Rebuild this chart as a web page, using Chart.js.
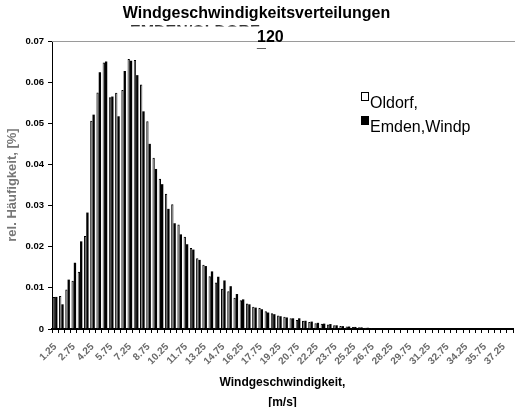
<!DOCTYPE html>
<html>
<head>
<meta charset="utf-8">
<script src="https://cdn.jsdelivr.net/npm/chart.js@4.4.1/dist/chart.umd.min.js"></script>
<style>
  html, body { margin: 0; padding: 0; background: #fff; overflow: hidden; }
  #wrap { width: 515px; height: 407px; }
</style>
</head>
<body>
<div id="wrap"><canvas id="chart" width="515" height="407"></canvas></div>
<script>
// Windgeschwindigkeitsverteilungen - two sites, rel. frequency per 0.5 m/s bin

const speeds = [
  '1.25', '1.75', '2.25', '2.75', '3.25', '3.75', '4.25', '4.75', '5.25', '5.75',
  '6.25', '6.75', '7.25', '7.75', '8.25', '8.75', '9.25', '9.75', '10.25', '10.75',
  '11.25', '11.75', '12.25', '12.75', '13.25', '13.75', '14.25', '14.75', '15.25', '15.75',
  '16.25', '16.75', '17.25', '17.75', '18.25', '18.75', '19.25', '19.75', '20.25', '20.75',
  '21.25', '21.75', '22.25', '22.75', '23.25', '23.75', '24.25', '24.75', '25.25', '25.75',
  '26.25', '26.75', '27.25', '27.75', '28.25', '28.75', '29.25', '29.75', '30.25', '30.75',
  '31.25', '31.75', '32.25', '32.75', '33.25', '33.75', '34.25', '34.75', '35.25', '35.75',
  '36.25', '36.75', '37.25', '37.75'
];

const oldorf = [
  0.0078, 0.0080, 0.0096, 0.0117, 0.0139, 0.0226, 0.0506, 0.0575, 0.0648, 0.0563,
  0.0574, 0.0581, 0.0656, 0.0654, 0.0594, 0.0505, 0.0416, 0.0365, 0.0329, 0.0303,
  0.0254, 0.0224, 0.0197, 0.0172, 0.0156, 0.0128, 0.0113, 0.0098, 0.0092, 0.0076,
  0.0070, 0.0062, 0.0054, 0.0051, 0.0043, 0.0038, 0.0033, 0.0030, 0.0026, 0.0022,
  0.0020, 0.0017, 0.0014, 0.0013, 0.0011, 0.0009, 0.0007, 0.0006, 0.0005, 0.0004,
  0.0003, 0.0002, 0.0001, 0, 0, 0, 0, 0, 0, 0,
  0, 0, 0, 0, 0, 0, 0, 0, 0, 0,
  0, 0, 0, 0
];

const emden = [
  0.0078, 0.0060, 0.0120, 0.0161, 0.0213, 0.0283, 0.0521, 0.0624, 0.0650, 0.0565,
  0.0517, 0.0627, 0.0652, 0.0617, 0.0529, 0.0450, 0.0389, 0.0352, 0.0292, 0.0257,
  0.0230, 0.0206, 0.0193, 0.0168, 0.0153, 0.0140, 0.0127, 0.0118, 0.0104, 0.0085,
  0.0072, 0.0060, 0.0052, 0.0048, 0.0040, 0.0036, 0.0031, 0.0028, 0.0026, 0.0026,
  0.0020, 0.0018, 0.0015, 0.0013, 0.0012, 0.0009, 0.0007, 0.0006, 0.0005, 0.0004,
  0.0003, 0.0002, 0.0001, 0, 0, 0, 0, 0, 0, 0,
  0, 0, 0, 0, 0, 0, 0, 0, 0, 0,
  0, 0, 0, 0
];

const seriesNames = ['Oldorf,', 'Emden,Windp'];
const yTicks = [0, 0.01, 0.02, 0.03, 0.04, 0.05, 0.06, 0.07];

const FONT = "'Liberation Sans', Arial, Helvetica, sans-serif";

// overflowing title pieces, top border line and the legend box
const extras = {
  id: 'extras',
  afterDraw(chart) {
    const ctx = chart.ctx;
    const area = chart.chartArea;
    ctx.save();

    // second title line, hidden except for a thin strip
    ctx.save();
    ctx.beginPath();
    ctx.rect(0, 25, 515, 1.6);
    ctx.clip();
    ctx.fillStyle = '#333';
    ctx.font = 'bold 16px ' + FONT;
    ctx.textBaseline = 'alphabetic';
    ctx.textAlign = 'left';
    ctx.fillText('EMDEN/OLDORF', 130, 36.6);
    ctx.restore();

    // top border of plot
    ctx.strokeStyle = '#9a9a9a';
    ctx.lineWidth = 1;
    ctx.beginPath();
    ctx.moveTo(area.left, area.top + 0.5);
    ctx.lineTo(515, area.top + 0.5);
    ctx.stroke();

    ctx.fillStyle = '#000';
    ctx.font = 'bold 16px ' + FONT;
    ctx.textAlign = 'left';
    ctx.textBaseline = 'alphabetic';
    ctx.fillText('120', 257, 42);
    ctx.fillText('_', 257, 47);

    // legend
    ctx.font = '16px ' + FONT;
    chart.data.datasets.forEach(function (ds, i) {
      const x = area.left + 309;
      const y = area.top + 51 + i * 24;
      ctx.fillStyle = ds.backgroundColor;
      ctx.fillRect(x, y, 8, 9);
      ctx.strokeStyle = '#000';
      ctx.strokeRect(x + 0.5, y + 0.5, 7, 8);
      ctx.fillStyle = '#000';
      ctx.fillText(ds.label, x + 9, y + 16);
    });

    ctx.restore();
  }
};

const ctx = document.getElementById('chart').getContext('2d');

new Chart(ctx, {
  type: 'bar',
  data: {
    labels: speeds,
    datasets: [
      {
        label: seriesNames[0],
        data: oldorf,
        backgroundColor: '#ffffff',
        borderColor: '#000000',
        borderWidth: 1,
      },
      {
        label: seriesNames[1],
        data: emden,
        backgroundColor: '#000000',
        borderColor: '#000000',
        borderWidth: 0,
      },
    ],
  },
  options: {
    responsive: false,
    animation: false,
    layout: {
      padding: { right: 2 },
    },
    datasets: {
      bar: {
        categoryPercentage: 0.74,
        barPercentage: 1.0,
      },
    },
    plugins: {
      legend: { display: false },
      tooltip: { enabled: false },
      title: {
        display: true,
        text: 'Windgeschwindigkeitsverteilungen',
        color: '#000',
        font: { family: FONT, size: 16, weight: 'bold' },
        padding: { top: 4, bottom: 17.8 },
      },
    },
    scales: {
      x: {
        type: 'category',
        offset: true,
        afterFit(scale) {
          scale.height = 78;
          scale.paddingLeft = 0;
          scale.paddingRight = 0;
        },
        grid: {
          offset: true,
          drawOnChartArea: false,
          drawTicks: true,
          tickLength: 4,
          color: '#000',
        },
        border: { color: '#000', width: 2 },
        ticks: {
          autoSkip: false,
          maxRotation: 45,
          minRotation: 45,
          padding: 8,
          color: '#6a6a6a',
          font: { family: FONT, size: 10, weight: 'bold' },
          callback: function (val, i) {
            return i % 3 === 0 ? this.getLabelForValue(val) : '';
          },
        },
        title: {
          display: true,
          text: ['Windgeschwindigkeit,', '[m/s]'],
          color: '#000',
          font: { family: FONT, size: 12, weight: 'bold', lineHeight: 1.6 },
          padding: { top: 0, bottom: -4.8 },
        },
      },
      y: {
        min: 0,
        max: 0.07,
        afterFit(scale) { scale.width = 52; },
        afterBuildTicks(scale) {
          scale.ticks = yTicks.map(function (v) { return { value: v }; });
        },
        grid: {
          drawOnChartArea: false,
          drawTicks: true,
          tickLength: 4,
          color: '#000',
        },
        border: { color: '#000', width: 1 },
        ticks: {
          padding: 4,
          color: '#000',
          font: { family: FONT, size: 9.5, weight: 'bold' },
          callback: function (v) { return String(Math.round(v * 100) / 100); },
        },
        title: {
          display: true,
          text: 'rel. Häufigkeit, [%]',
          color: '#777',
          font: { family: FONT, size: 13, weight: 'bold' },
          padding: { top: 4.2, bottom: 0 },
        },
      },
    },
  },
  plugins: [extras],
});
</script>
</body>
</html>
